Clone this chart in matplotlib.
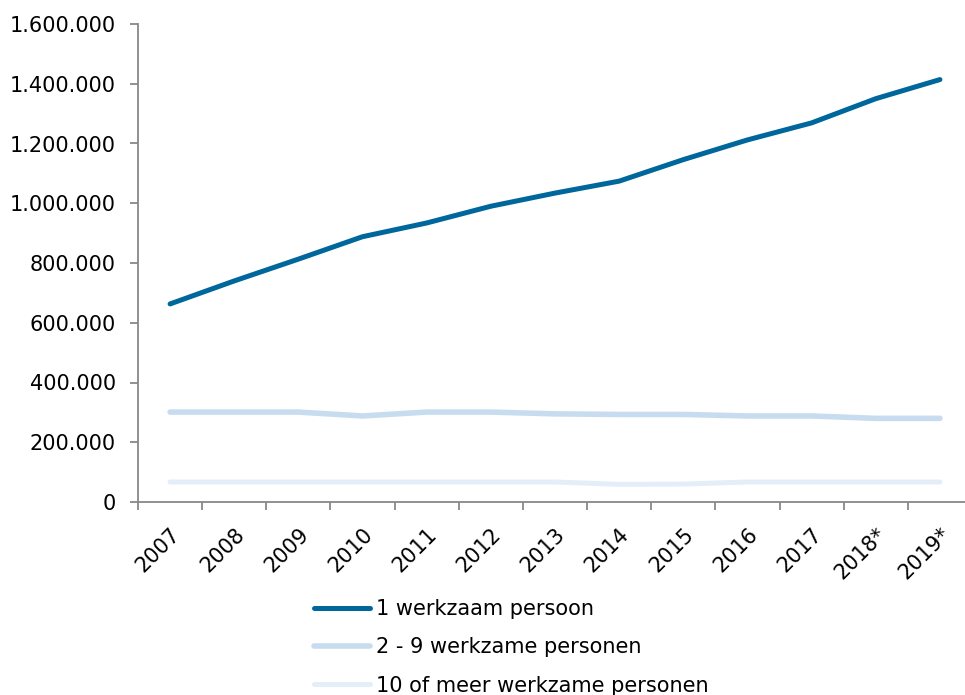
import numpy as np
import matplotlib
matplotlib.use("Agg")
import matplotlib.pyplot as plt
from matplotlib.ticker import FuncFormatter, FixedLocator

years = ["2007", "2008", "2009", "2010", "2011", "2012", "2013",
         "2014", "2015", "2016", "2017", "2018*", "2019*"]
een_persoon = [663000, 740000, 813000, 888000, 934000, 990000, 1034000,
               1074000, 1146000, 1212000, 1269000, 1350000, 1414000]
twee_negen = [301000, 301000, 301000, 288000, 301000, 301000, 295000,
              293000, 293000, 288000, 288000, 280000, 280000]
tien_meer = [67000, 67000, 67000, 67000, 67000, 67000, 67000,
             59000, 60000, 67000, 67000, 67000, 67000]

labels = ["1 werkzaam persoon", "2 - 9 werkzame personen",
          "10 of meer werkzame personen"]
colors = ["#00679c", "#c8dcef", "#e4eef8"]
widths = [3.6, 4.0, 3.6]

plt.rcParams['font.family'] = ['DejaVu Sans']
fs = 15

fig = plt.figure(figsize=(9.65, 6.95), dpi=100)
ax = fig.add_axes([138 / 965, 193 / 695, 834 / 965, 478 / 695])

x = np.arange(len(years))
series = [een_persoon, twee_negen, tien_meer]
for vals, lab, c, w in zip(series, labels, colors, widths):
    ax.plot(x, vals, color=c, lw=w, label=lab, solid_capstyle='round',
            solid_joinstyle='round')

ax.set_xlim(-0.5, len(years) - 0.5)
ax.set_ylim(0, 1600000)
ax.set_yticks(np.arange(0, 1600001, 200000))
ax.yaxis.set_major_formatter(FuncFormatter(lambda v, p: f"{int(v):,}".replace(",", ".")))

ax.set_xticks(x)
ax.set_xticklabels(years, rotation=45, ha='right', rotation_mode='anchor')
ax.xaxis.set_minor_locator(FixedLocator(np.arange(-0.5, len(years), 1.0)))
ax.tick_params(axis='x', which='major', length=0, pad=16, labelsize=fs)
ax.tick_params(axis='x', which='minor', length=6, width=1.3, color='#888888')
ax.tick_params(axis='y', length=6, width=1.3, color='#888888', labelsize=fs, pad=10)

for s in ['top', 'right']:
    ax.spines[s].set_visible(False)
for s in ['left', 'bottom']:
    ax.spines[s].set_color('#888888')
    ax.spines[s].set_linewidth(1.3)

fig.legend(loc='upper left', bbox_to_anchor=(314 / 965, 1 - 599 / 695),
           frameon=False, fontsize=fs, handlelength=2.7, handletextpad=0.3,
           labelspacing=0.88, borderpad=0, borderaxespad=0)

fig.savefig("out.png", dpi=100)
